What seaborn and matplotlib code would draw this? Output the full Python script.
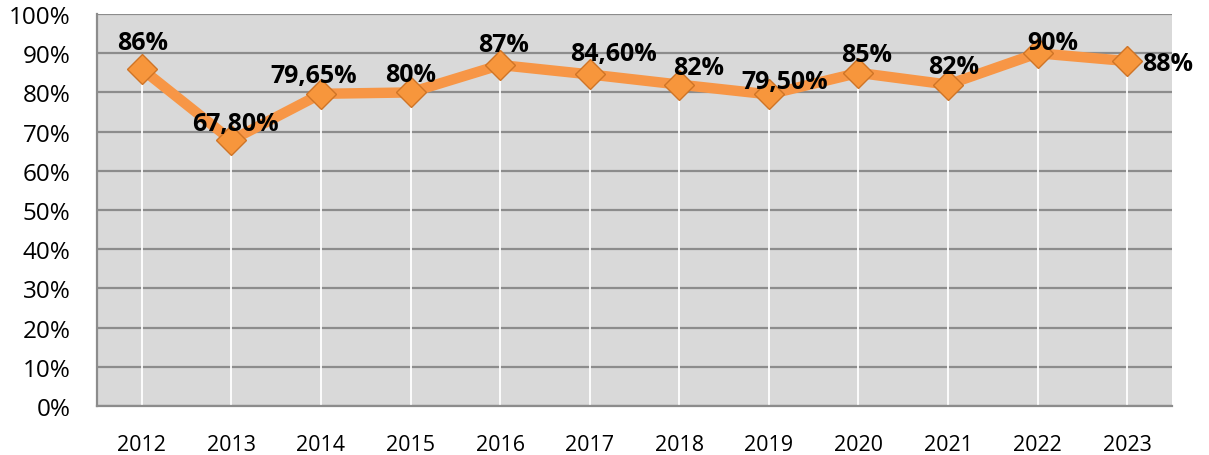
import pandas as pd
import matplotlib.pyplot as plt
import matplotlib.ticker as mticker
import seaborn as sns

# Chart data
years = ['2012', '2013', '2014', '2015', '2016', '2017', '2018', '2019', '2020', '2021', '2022', '2023']
values = [86, 67.8, 79.65, 80, 87, 84.6, 82, 79.5, 85, 82, 90, 88]
labels = ['86%', '67,80%', '79,65%', '80%', '87%', '84,60%', '82%', '79,50%', '85%', '82%', '90%', '88%']

# label placement (pixels from the marker, as moved by hand in the original)
label_dx = [1, 4, -7, 0, 3, 24, 19, 16, 8, 6, 15, 15]
label_dy = [29, 19, 21, 20, 23, 23, 20, 15, 21, 21, 13, 0]

df = pd.DataFrame({'Year': years, 'Value': values})
df['Pos'] = range(len(df))

sns.set_style('white')
plt.rcParams['font.family'] = ['Open Sans', 'DejaVu Sans']

fig = plt.figure(figsize=(12.09, 4.56), dpi=100)
ax = fig.add_axes([0.0802, 0.1075, 0.8892, 0.8595])
ax.set_facecolor('#D9D9D9')

# white drop lines from each point down to the axis
ax.vlines(df['Pos'], 0, df['Value'], colors='white', linewidth=1.3, zorder=2)

sns.lineplot(data=df, x='Pos', y='Value', ax=ax, color='#F79646', linewidth=7.5,
             marker='D', markersize=15, markerfacecolor='#F7963C',
             markeredgecolor='#CF7426', markeredgewidth=1, zorder=3)

# data labels
for i, (v, lab) in enumerate(zip(values, labels)):
    last = i == len(values) - 1
    ax.annotate(lab, (i, v), xytext=(label_dx[i], label_dy[i] - 9),
                textcoords='offset pixels', ha='left' if last else 'center',
                va='baseline', fontsize=18, fontweight='bold', color='black', zorder=4)

ax.set_xlim(-0.5, len(years) - 0.5)
ax.set_ylim(0, 100)
ax.set_xticks(df['Pos'])
ax.set_xticklabels(years)
ax.set_yticks(range(0, 101, 10))
ax.yaxis.set_major_formatter(mticker.FuncFormatter(lambda v, p: f'{int(v)}%'))
ax.yaxis.grid(True, color='#8C8C8C', linewidth=1.6)
ax.set_axisbelow(True)
ax.set_xlabel('')
ax.set_ylabel('')

for side in ['top', 'right']:
    ax.spines[side].set_visible(False)
for side in ['left', 'bottom']:
    ax.spines[side].set_color('#8C8C8C')
    ax.spines[side].set_linewidth(1.6)

ax.tick_params(axis='y', length=7, width=1.6, color='#8C8C8C', labelcolor='black',
               labelsize=17.5, pad=12)
ax.tick_params(axis='x', length=0, labelcolor='black', labelsize=15.5, pad=20)

plt.savefig('out.png', dpi=100)
plt.close()
